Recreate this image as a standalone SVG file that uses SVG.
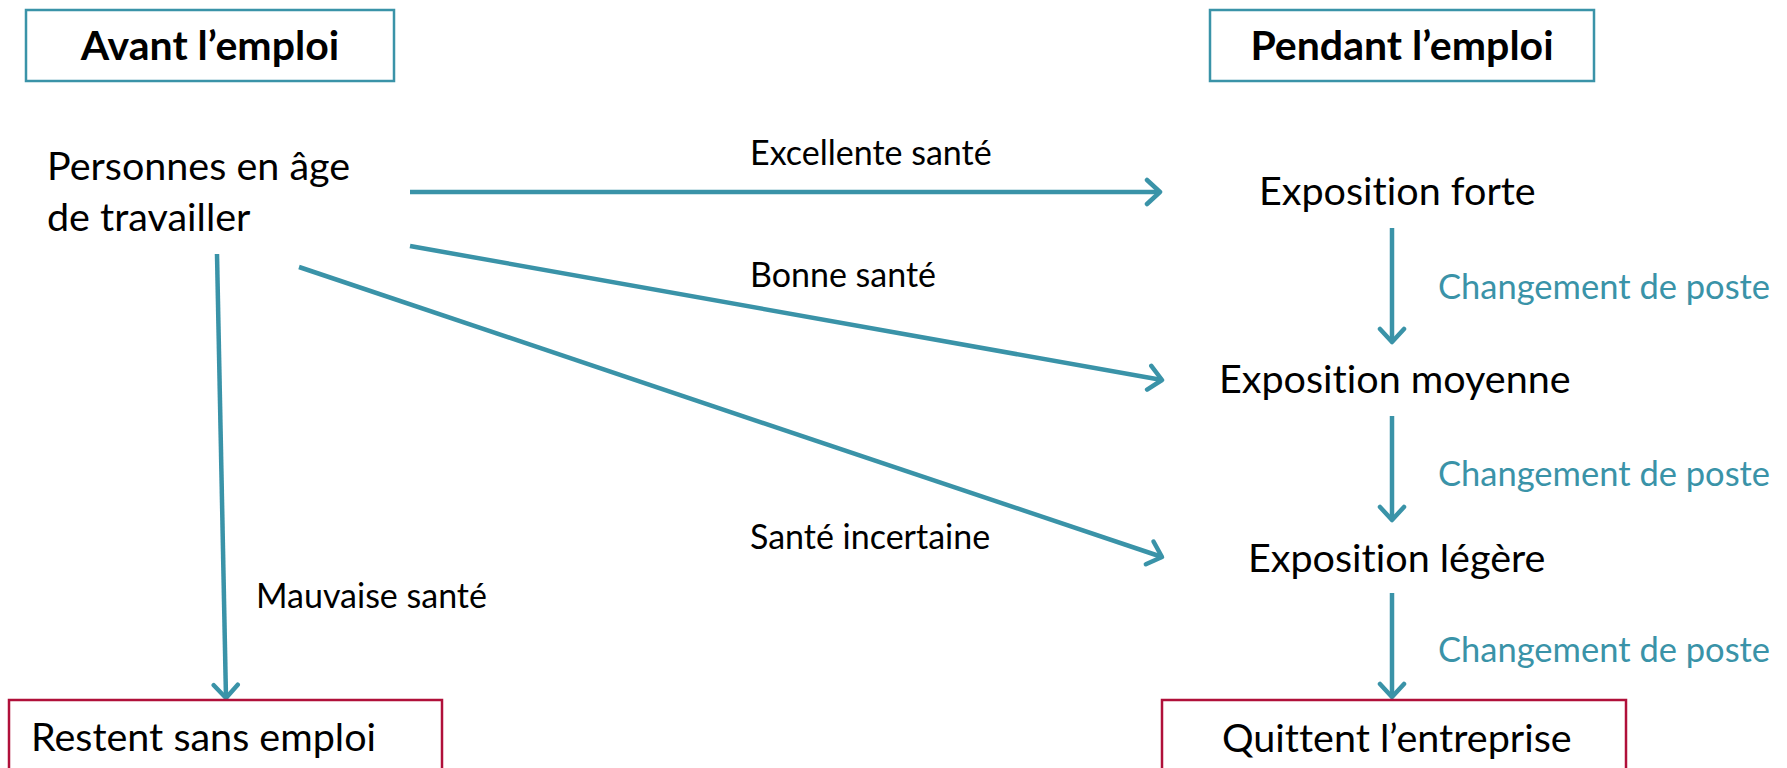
<svg xmlns="http://www.w3.org/2000/svg" width="1787" height="768" viewBox="0 0 1787 768">
<defs>
<style>
.hdr{fill:#fff;stroke:#3a93a8;stroke-width:2.5}
.out{fill:#fff;stroke:#b0103a;stroke-width:2.5}
.t{font-family:Lato,"Liberation Sans",sans-serif;fill:#000;font-variant-ligatures:none;font-feature-settings:"liga" 0,"clig" 0}
.big{font-size:39.5px}
.bold{font-size:41px;font-weight:bold}
.lbl{font-size:34px}
.chg{font-size:34.5px;fill:#3a93a8}
.conn{stroke:#3a93a8;stroke-width:4.5;fill:none}
</style>
<marker id="ah" markerUnits="userSpaceOnUse" orient="auto" markerWidth="30" markerHeight="30" refX="16" refY="15" viewBox="0 0 30 30">
<path d="M3,3 L16,15 L3,27" fill="none" stroke="#3a93a8" stroke-width="4.5" stroke-linecap="round" stroke-linejoin="round"/>
</marker>
</defs>
<rect width="1787" height="768" fill="#fff"/>
<g id="connectors">
<line class="conn" x1="410" y1="192" x2="1160" y2="192" marker-end="url(#ah)"/>
<line class="conn" x1="410" y1="246" x2="1162" y2="380" marker-end="url(#ah)"/>
<line class="conn" x1="299" y1="267" x2="1162" y2="557" marker-end="url(#ah)"/>
<line class="conn" x1="217" y1="254" x2="226" y2="698" marker-end="url(#ah)"/>
<line class="conn" x1="1392" y1="228" x2="1392" y2="342" marker-end="url(#ah)"/>
<line class="conn" x1="1392" y1="416" x2="1392" y2="520" marker-end="url(#ah)"/>
<line class="conn" x1="1392" y1="593" x2="1392" y2="697" marker-end="url(#ah)"/>
<text class="t lbl" x="750" y="165">Excellente santé</text>
<text class="t lbl" x="750" y="287">Bonne santé</text>
<text class="t lbl" x="750" y="549">Santé incertaine</text>
<text class="t lbl" x="256" y="608">Mauvaise santé</text>
<text class="t chg" x="1438" y="299">Changement de poste</text>
<text class="t chg" x="1438" y="486">Changement de poste</text>
<text class="t chg" x="1438" y="662">Changement de poste</text>
</g>
<g id="avant">
<rect class="hdr" x="26" y="10" width="368" height="71"/>
<text class="t bold" x="210" y="60" text-anchor="middle">Avant l’emploi</text>
</g>
<g id="pendant">
<rect class="hdr" x="1210" y="10" width="384" height="71"/>
<text class="t bold" x="1402" y="60" text-anchor="middle">Pendant l’emploi</text>
</g>
<g id="personnes">
<text class="t big" x="47" y="180">Personnes en âge</text>
<text class="t big" x="47" y="231">de travailler</text>
</g>
<g id="forte"><text class="t big" x="1259" y="205">Exposition forte</text></g>
<g id="moyenne"><text class="t big" x="1219" y="393">Exposition moyenne</text></g>
<g id="legere"><text class="t big" x="1248" y="572">Exposition légère</text></g>
<g id="restent">
<rect class="out" x="9" y="700" width="433" height="80"/>
<text class="t big" x="31" y="751">Restent sans emploi</text>
</g>
<g id="quittent">
<rect class="out" x="1162" y="700" width="464" height="80"/>
<text class="t big" x="1222" y="752">Quittent l’entreprise</text>
</g>
</svg>
